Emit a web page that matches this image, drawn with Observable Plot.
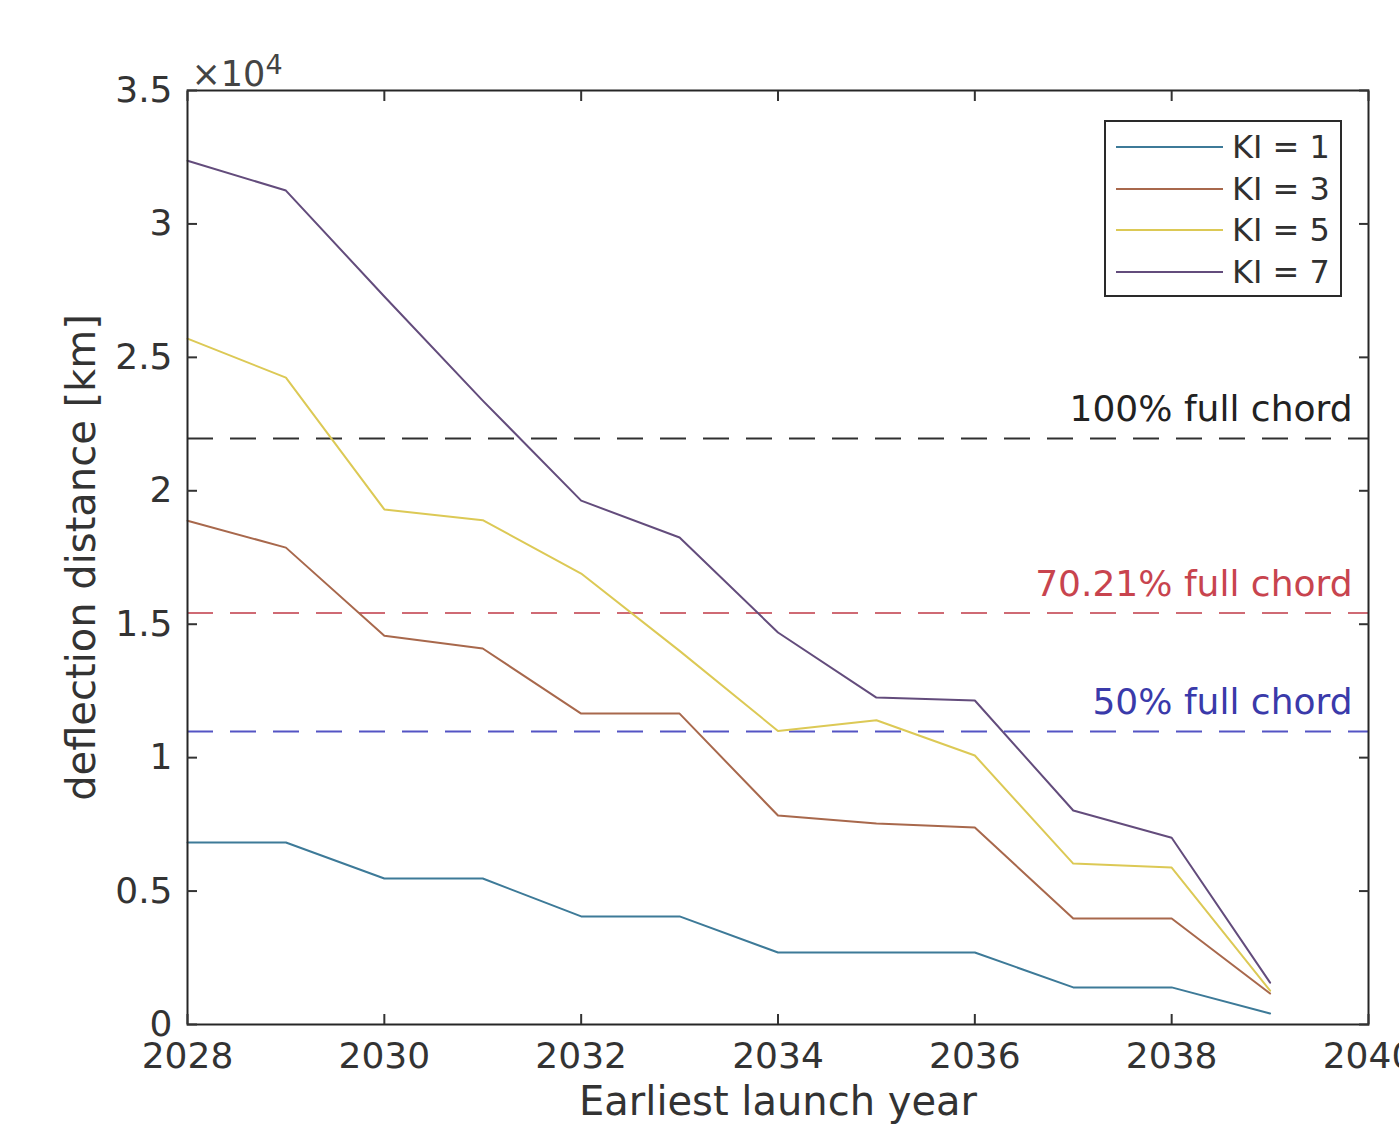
<!DOCTYPE html>
<html>
<head>
<meta charset="utf-8">
<script src="https://cdn.jsdelivr.net/npm/d3@7"></script>
<script src="https://cdn.jsdelivr.net/npm/@observablehq/plot@0.6"></script>
<style>
  html, body { margin: 0; padding: 0; background: #fff; overflow: hidden; }
  #wrap { position: relative; width: 1399px; height: 1136px; overflow: hidden; }
  #legend {
    position: absolute; left: 1104px; top: 120px; width: 234px; height: 173px;
    border: 2px solid #2a2a2a; background: #fff; box-sizing: content-box;
    font-family: "DejaVu Sans", sans-serif; font-size: 32px; color: #303030;
  }
  #legend .row { position: absolute; left: 0; height: 40px; display: flex; align-items: center; }
  #legend .sw { width: 107px; height: 0; margin-left: 10px; margin-right: 9px; }
</style>
</head>
<body>
<div id="wrap"></div>
<script>
// ---- data (values in km) ----
const years = [2028, 2029, 2030, 2031, 2032, 2033, 2034, 2035, 2036, 2037, 2038, 2039];
const ki1 = [6820, 6820, 5470, 5470, 4050, 4050, 2700, 2700, 2700, 1390, 1390, 410];
const ki3 = [18880, 17870, 14570, 14090, 11650, 11650, 7830, 7530, 7380, 3970, 3970, 1160];
const ki5 = [25700, 24240, 19300, 18900, 16900, 14000, 11000, 11400, 10080, 6030, 5880, 1270];
const ki7 = [32370, 31250, 27280, 23380, 19630, 18250, 14690, 12250, 12140, 8020, 7000, 1570];
const seriesNames = ["KI = 1", "KI = 3", "KI = 5", "KI = 7"];
const seriesColors = ["#3d7a98", "#a8684c", "#dcc955", "#634c7c"];

const fullChord = 21960;
const chordFractions = [1, 0.7021, 0.5];
const chordLabels = ["100% full chord", "70.21% full chord", "50% full chord"];
const chordLineColors = ["#303030", "#cf6a74", "#5454c4"];
const chordTextColors = ["#222222", "#c8444e", "#3a3aaa"];

const xTicks = [2028, 2030, 2032, 2034, 2036, 2038, 2040];
const yTicks = [0, 5000, 10000, 15000, 20000, 25000, 30000, 35000];

// ---- build tables ----
const seriesValues = [ki1, ki3, ki5, ki7];
const rows = [];
seriesNames.forEach((name, i) => {
  years.forEach((yr, j) => rows.push({ series: name, year: yr, value: seriesValues[i][j] }));
});
const chordRows = chordFractions.map((f, i) => ({
  value: fullChord * f, label: chordLabels[i], line: chordLineColors[i], text: chordTextColors[i]
}));

const chart = Plot.plot({
  width: 1399,
  height: 1136,
  marginLeft: 187,
  marginRight: 31,
  marginTop: 90,
  marginBottom: 112,
  style: { fontFamily: "DejaVu Sans, sans-serif", fontSize: "36px", color: "#333", background: "#fff", overflow: "visible" },
  x: { domain: [2028, 2040], label: null },
  y: { domain: [0, 35000], label: null },
  color: { domain: seriesNames, range: seriesColors },
  marks: [
    Plot.ruleY(chordRows, { y: "value", stroke: "line", strokeWidth: 2, strokeDasharray: "26,17" }),
    Plot.text(chordRows, { y: "value", frameAnchor: "right", textAnchor: "end", dx: -16, dy: -29, text: "label", fill: "text", fontSize: 36 }),
    Plot.line(rows, { x: "year", y: "value", z: "series", stroke: "series", strokeWidth: 2 }),
    Plot.frame({ stroke: "#262626", strokeWidth: 2 }),
    Plot.axisX({ anchor: "bottom", ticks: xTicks, tickFormat: d => String(d), tickSize: -10, tickPadding: 28, strokeWidth: 2, label: null, fontSize: 36 }),
    Plot.axisX({ anchor: "top", ticks: xTicks, tickFormat: () => "", tickSize: -10, strokeWidth: 2, label: null }),
    Plot.axisY({ anchor: "left", ticks: yTicks, tickFormat: d => String(d / 1e4), tickSize: -10, tickPadding: 25, strokeWidth: 2, label: null, fontSize: 36 }),
    Plot.axisY({ anchor: "right", ticks: yTicks, tickFormat: () => "", tickSize: -10, strokeWidth: 2, label: null }),
    Plot.text(["×10"], { frameAnchor: "top-left", textAnchor: "start", dx: 4, dy: -29, fontSize: 35, fill: "#444", className: "exp-label" }),
    Plot.text(["Earliest launch year"], { frameAnchor: "bottom", textAnchor: "middle", dy: 90, fontSize: 40, fill: "#333" }),
    Plot.text(["deflection distance [km]"], { frameAnchor: "left", textAnchor: "middle", dx: -105, rotate: -90, fontSize: 40, fill: "#333" })
  ]
});

// superscript exponent on the ×10 label
d3.select(chart).selectAll(".exp-label text").each(function () {
  d3.select(this).append("tspan").attr("dy", "-0.45em").attr("font-size", 27).text("4");
});

const wrap = document.getElementById("wrap");
wrap.appendChild(chart);

// ---- legend ----
const legend = document.createElement("div");
legend.id = "legend";
seriesNames.forEach((name, i) => {
  const row = document.createElement("div");
  row.className = "row";
  row.style.top = (5 + i * 41.5) + "px";
  const sw = document.createElement("div");
  sw.className = "sw";
  sw.style.borderTop = "2px solid " + seriesColors[i];
  const lab = document.createElement("span");
  lab.textContent = name;
  row.appendChild(sw);
  row.appendChild(lab);
  legend.appendChild(row);
});
wrap.appendChild(legend);
</script>
</body>
</html>
